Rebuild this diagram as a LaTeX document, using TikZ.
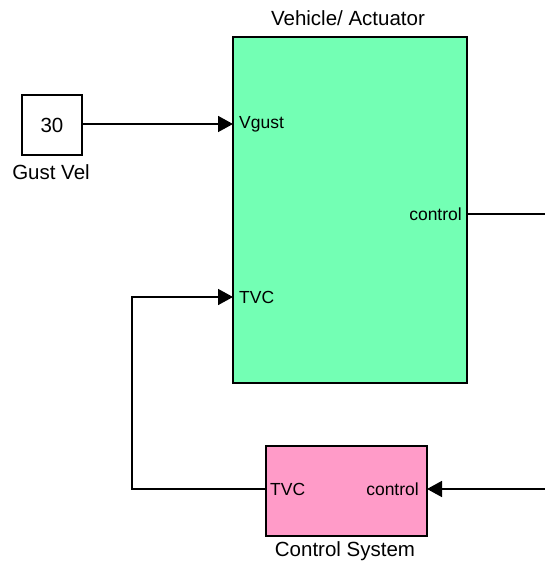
\documentclass[tikz,border=0pt]{standalone}
\usepackage{fontspec}
\setmainfont{Liberation Sans}
\usetikzlibrary{arrows.meta}
\definecolor{vehgreen}{RGB}{115,255,180}
\definecolor{ctlpink}{RGB}{255,155,200}
\tikzset{
  blockbox/.style={draw=black, line width=1.6pt, inner sep=0pt},
  sig/.style={line width=1.6pt, -{Triangle[length=15pt,width=16pt]}},
  wire/.style={line width=1.6pt},
  blabel/.style={font=\fontsize{20.5}{24}\selectfont, inner sep=0pt},
  plabel/.style={font=\fontsize{17.5}{20}\selectfont, inner sep=0pt},
}
\begin{document}
\begin{tikzpicture}[x=1pt,y=-1pt]
\useasboundingbox (0,0) rectangle (545,564);
% blocks
\node[blockbox, fill=white, minimum width=60pt, minimum height=60pt] (gust) at (52,125) {};
\node[blabel] (gustval) at (gust.center) {30};
\node[blabel] (gustlbl) at (51,172) {Gust Vel};
\node[blockbox, fill=vehgreen, minimum width=234pt, minimum height=346pt] (veh) at (350,210) {};
\node[blabel] (vehlbl) at (348,18) {Vehicle/ Actuator};
\node[blockbox, fill=ctlpink, minimum width=161pt, minimum height=90pt] (ctl) at (346.5,491) {};
\node[blabel] (ctllbl) at (345,551) {Control System};
% ports
\coordinate (vin1) at (233,124);
\coordinate (vin2) at (233,297);
\coordinate (vout) at (467,214);
\coordinate (cin) at (427,489);
\coordinate (cout) at (266,489);
\node[plabel, anchor=west] (pvg) at (239,124) {Vgust};
\node[plabel, anchor=west] (ptvc) at (239,297) {TVC};
\node[plabel, anchor=east] (pctl) at (462,214) {control};
\node[plabel, anchor=west] (cptvc) at (270,489) {TVC};
\node[plabel, anchor=east] (cpctl) at (419,489) {control};
% free ends
\coordinate (rightA) at (545,214);
\coordinate (rightB) at (545,489);
\coordinate (bendL) at (132,489);
\coordinate (bendU) at (132,297);
% connectors
\draw[sig] (gust.east |- vin1) -- (vin1);
\draw[wire] (vout) -- (rightA);
\draw[sig] (rightB) -- (cin);
\draw[sig] (cout) -- (bendL) -- (bendU) -- (vin2);
\end{tikzpicture}
\end{document}
